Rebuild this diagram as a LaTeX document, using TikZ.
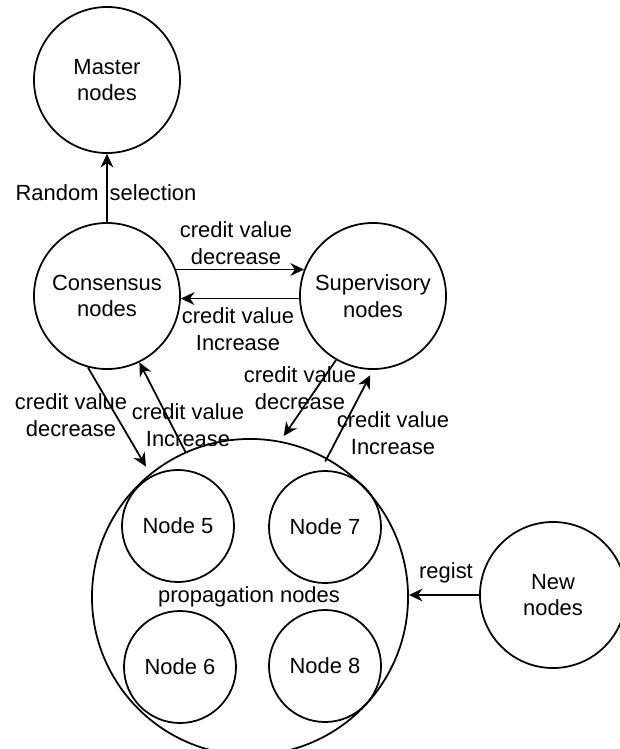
\documentclass[tikz,border=0pt]{standalone}
\usepackage{fontspec}
\setmainfont{Liberation Sans}
\usetikzlibrary{arrows.meta}
\begin{document}
\begin{tikzpicture}[x=0.025cm, y=-0.025cm, >={Stealth[length=3.4mm,width=3.2mm]}, line width=1.25pt, line join=round, font=\fontsize{15.6}{19}\selectfont,
		big/.style={draw, circle, minimum size=3.65cm, inner sep=0pt, align=center},
		small/.style={draw, circle, minimum size=2.8cm, inner sep=0pt},
		lbl/.style={inner sep=0pt, align=center}]
	\useasboundingbox (0,0) rectangle (619,749);
	
	\node[big] (master) at (107,80) {Master\\nodes};
	\node[big] (cons) at (107,296) {Consensus\\nodes};
	\node[big] (sup) at (373,296) {Supervisory\\nodes};
	\node[big] (new) at (553,595) {New\\nodes};
	\node[draw, circle, minimum size=7.9cm, inner sep=0pt] (prop) at (250,597) {};
	\node[lbl] (proptxt) at (249,597) {propagation nodes};
	
	\foreach \nut/\x/\y in {5/178/526, 7/325/527, 6/180/667, 8/325/666}
	\node[small] (n\nut) at (\x,\y) {Node \nut};
	
	\draw[->] (cons.north) -- (master.south);
	\draw[->] (cons.21) -- (sup.159);
	\draw[->] (sup.182) -- (cons.-2);
	\draw[->, shorten >=0.2cm] (cons.-105) -- (prop.129);
	\draw[->] (prop.114) -- (cons.-64);
	\draw[->, shorten >=0.15cm] (sup.-120) -- (prop.79);
	\draw[->, shorten <=-0.1cm, shorten >=0.15cm] (prop.61) -- (sup.-90);
	\draw[->] (new.west) -- (new.west -| prop.east);
	
	\node[lbl] (rs) at (106,193) {Random\hspace{2.8mm}selection};
	\node[lbl] (l1) at (236,243) {credit value\\decrease};
	\node[lbl] (l2) at (238,329) {credit value\\Increase};
	\node[lbl] (l3) at (71,415) {credit value\\decrease};
	\node[lbl] (l4) at (188,425) {credit value\\Increase};
	\node[lbl] (l5) at (300,388) {credit value\\decrease};
	\node[lbl] (l6) at (393,433) {credit value\\Increase};
	\node[lbl] (reg) at (446,573) {regist};
\end{tikzpicture}
\end{document}
